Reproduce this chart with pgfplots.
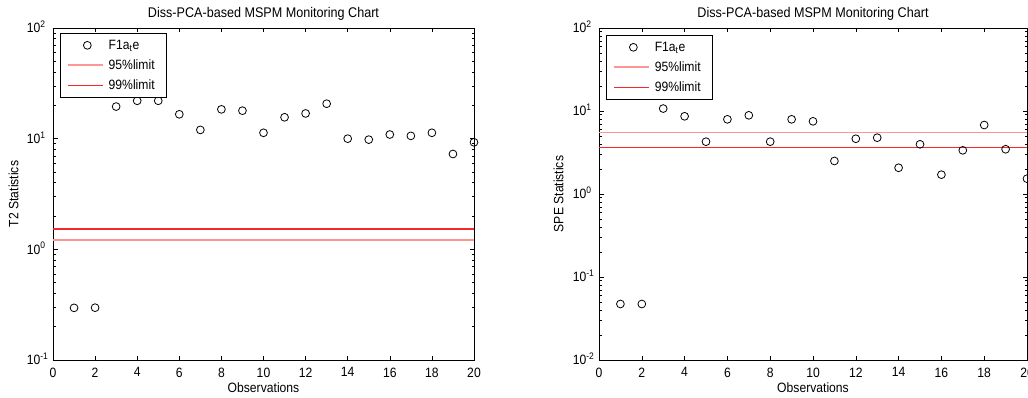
\documentclass[border=0pt]{standalone}
\usepackage{fontspec}
\setmainfont{Liberation Sans}[FakeStretch=0.9]
\usepackage{pgfplots}
\pgfplotsset{compat=1.18}

\definecolor{lim95}{RGB}{255,150,150}
\definecolor{lim99}{RGB}{245,40,40}

\newcommand{\chartfont}{\fontsize{13.5}{15}\selectfont}
\newcommand{\titlefont}{\fontsize{14}{16}\selectfont}

\pgfplotsset{
  every axis title shift=0pt,
  key95/.style={legend image code/.code={\draw[draw=lim95, line width=1.8pt] (0pt,0pt) -- (35pt,0pt);}},
  key99/.style={legend image code/.code={\draw[draw=lim99, line width=1.2pt] (0pt,0pt) -- (35pt,0pt);}},
  obsmarks/.style={only marks, mark=o, mark size=3.9pt,
    mark options={line width=0.8pt, black},
    legend image code/.code={\draw[##1] plot coordinates {(19pt,0pt)};}},
  mspm/.style={
    scale only axis,
    height=332pt,
    xmin=0, xmax=20,
    xtick={0,2,...,20},
    /pgf/number format/assume math mode=true,
    tick align=inside,
    major tick length=4.5pt,
    minor tick length=2.5pt,
    every tick/.style={black, line width=0.6pt},
    axis line style={black, line width=0.9pt},
    xticklabel style={font=\chartfont, anchor=north, inner sep=0pt, yshift=-7.5pt},
    yticklabel style={font=\chartfont, anchor=base east, inner sep=0pt,
      xshift=-12.5pt, yshift=-4.8pt},
    label style={font=\chartfont},
    title style={font=\titlefont, at={(axis description cs:0.5,1.0322)}, anchor=base},
    title={Diss-PCA-based MSPM Monitoring Chart},
    xlabel={Observations},
    xlabel style={at={(axis description cs:0.5,-0.0979)}, anchor=base},
    legend cell align=left,
    legend style={draw=black, line width=0.9pt, font=\chartfont,
      anchor=north west, inner xsep=7pt, inner ysep=4pt, row sep=4pt,
      nodes={inner xsep=4.5pt, inner ysep=2.5pt}},
  }
}

\begin{document}
\begin{tikzpicture}[x=1pt,y=1pt]
% T2 statistic chart
\begin{axis}[mspm,
  ymode=log,
  at={(53pt,38pt)}, anchor=south west,
  width=421pt,
  ymin=0.1, ymax=100,
  ytick={0.1,1,10,100},
  yticklabels={10\rlap{\textsuperscript{-1}},10\rlap{\textsuperscript{0}},10\rlap{\textsuperscript{1}},10\rlap{\textsuperscript{2}}},
  ylabel={T2 Statistics},
  ylabel style={at={(axis description cs:-0.0824,0.5)}, anchor=base},
  legend style={at={(axis description cs:0.0166,0.985)}},
]
\addplot[obsmarks] coordinates {
  (1,0.296) (2,0.297) (3,19.5) (4,22.0) (5,22.0) (6,16.6) (7,12.0)
  (8,18.4) (9,17.9) (10,11.3) (11,15.6) (12,16.9) (13,20.7) (14,10.0)
  (15,9.8) (16,10.9) (17,10.6) (18,11.3) (19,7.27) (20,9.27)};
\addlegendentry{F1a\textsubscript{t}e}
\addplot[lim95, line width=1.6pt, key95] coordinates {(0,1.21) (20,1.21)};
\addlegendentry{95\%limit}
\addplot[lim99, line width=1.6pt, key99] coordinates {(0,1.52) (20,1.52)};
\addlegendentry{99\%limit}
\end{axis}

% SPE statistic chart
\begin{axis}[mspm,
  ymode=log,
  at={(599pt,38pt)}, anchor=south west,
  width=428pt,
  ymin=0.01, ymax=100,
  ytick={0.01,0.1,1,10,100},
  yticklabels={10\rlap{\textsuperscript{-2}},10\rlap{\textsuperscript{-1}},10\rlap{\textsuperscript{0}},10\rlap{\textsuperscript{1}},10\rlap{\textsuperscript{2}}},
  ylabel={SPE Statistics},
  ylabel style={at={(axis description cs:-0.0834,0.5)}, anchor=base},
  legend style={at={(axis description cs:0.0164,0.979)}},
]
\addplot[obsmarks] coordinates {
  (1,0.0473) (2,0.0473) (3,10.7) (4,8.63) (5,4.27) (6,7.94) (7,8.87)
  (8,4.27) (9,7.94) (10,7.51) (11,2.50) (12,4.63) (13,4.77) (14,2.07)
  (15,3.97) (16,1.71) (17,3.36) (18,6.78) (19,3.46) (20,1.53)};
\addlegendentry{F1a\textsubscript{t}e}
\addplot[lim95, line width=1.6pt, key95] coordinates {(0,5.48) (20,5.48)};
\addlegendentry{95\%limit}
\addplot[lim99, line width=1pt, key99] coordinates {(0,3.68) (20,3.68)};
\addlegendentry{99\%limit}
\end{axis}

\pgfresetboundingbox
\path (0pt,0pt) rectangle (1028pt,398pt);
\end{tikzpicture}
\end{document}
